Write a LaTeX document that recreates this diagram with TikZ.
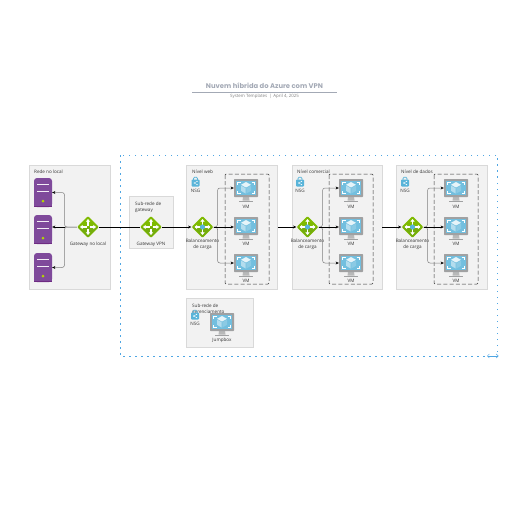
\documentclass[tikz,border=0pt]{standalone}
\usepackage{fontspec}
\setmainfont{Open Sans}
\newfontfamily\titlefont{Poppins}
\usetikzlibrary{arrows.meta,shapes.geometric}

\definecolor{panelfill}{HTML}{F2F2F2}
\definecolor{panelline}{HTML}{D9D9D9}
\definecolor{vnetblue}{HTML}{4FA6E3}
\definecolor{serverpurple}{HTML}{7F4A9B}
\definecolor{serverdark}{HTML}{68217A}
\definecolor{gategreen}{HTML}{7FBA00}
\definecolor{gatedark}{HTML}{5E9624}
\definecolor{bezelgray}{HTML}{A0A1A2}
\definecolor{screenblue}{HTML}{59B4D9}
\definecolor{titlegray}{HTML}{A3A9B5}

\tikzset{
    panel/.style={draw=panelline, fill=panelfill, line width=.9pt, inner sep=0pt},
    label/.style={font=\fontsize{4.6}{6}\selectfont, text=black!80, inner sep=0pt, align=center},
    panellabel/.style={label, anchor=west, align=left},
    link/.style={black!50, line width=.5pt, rounded corners=2.5pt, -{Stealth[black, length=3.2pt, width=3pt]}},
    midlink/.style={black, line width=.6pt, -{Stealth[length=3.2pt, width=3pt]}},
    mainlink/.style={black, line width=.7pt},
    gatearrow/.style={white, line width=1.2pt, -{Triangle[length=2.6pt,width=4pt]}},
    groupline/.style={black!80, line width=.5pt, dash pattern=on 4pt off 2.2pt, rounded corners=1pt},
}

% Icons, all drawn around their centre.
\newcommand{\vmicon}[2]{
    \begin{scope}[shift={(#2)}]
        \fill[bezelgray!75] (-3,9) -- (3,9) -- (3.5,12.5) -- (-3.5,12.5) -- cycle;
        \fill[bezelgray] (-7,12.5) rectangle (7,14);
        \node[draw=none, fill=bezelgray, minimum width=24pt, minimum height=18pt, inner sep=0pt, rounded corners=.6pt] (#1) at (0,0) {};
        \fill[screenblue!85!white] (-10,-7.5) rectangle (10,7);
        \draw[white, line width=.7pt] (-8.5,-3) -- (-8.5,-6) -- (-5.5,-6) (5.5,-6) -- (8.5,-6) -- (8.5,-3) (8.5,2.5) -- (8.5,5.5) -- (5.5,5.5) (-5.5,5.5) -- (-8.5,5.5) -- (-8.5,2.5);
        \fill[white!85!screenblue] (0,-6) -- (5,-3.2) -- (0,-.5) -- (-5,-3.2) -- cycle;
        \fill[white!55!screenblue] (-5,-2.4) -- (-.4,.2) -- (-.4,5.5) -- (-5,2.8) -- cycle;
        \fill[white!30!screenblue] (5,-2.4) -- (.4,.2) -- (.4,5.5) -- (5,2.8) -- cycle;
    \end{scope}
}
\newcommand{\servericon}[2]{
    \begin{scope}[shift={(#2)}]
        \node[fill=serverpurple, minimum width=18pt, minimum height=29pt, inner sep=0pt, rounded corners=3pt] (#1) at (0,0) {};
        \fill[serverpurple] (-9,0) rectangle (9,14.5);
        \fill[serverdark!75!serverpurple] (-9,13.8) rectangle (9,14.5);
        \draw[white!90!serverpurple, line width=1pt] (-6,-8.5) -- (6,-8.5) (-6,-1.5) -- (6,-1.5);
        \fill[gategreen!60!yellow] (0,8.5) circle (1.5);
    \end{scope}
}
\newcommand{\gateicon}[2]{
    \begin{scope}[shift={(#2)}]
        \node[diamond, fill=gategreen, minimum size=22pt, inner sep=0pt, rounded corners=1.2pt] (#1) at (0,0) {};
        \fill[gatedark!35!gategreen] (-10,0) -- (10,0) -- (0,10) -- cycle;
        \draw[gatearrow] (0,-1.5) -- (0,-8);
        \draw[gatearrow] (0,1.5) -- (0,8);
        \draw[gatearrow] (-1.5,0) -- (-8,0);
        \draw[gatearrow] (1.5,0) -- (8,0);
    \end{scope}
}
\newcommand{\lbicon}[2]{
    \begin{scope}[shift={(#2)}]
        \node[diamond, fill=gategreen, minimum size=22pt, inner sep=0pt, rounded corners=1.2pt] (#1) at (0,0) {};
        \fill[gatedark!35!gategreen] (-10,0) -- (10,0) -- (0,10) -- cycle;
        \draw[gatearrow] (0,-1.5) -- (0,-8);
        \draw[gatearrow] (0,1.5) -- (0,8);
        \draw[gatearrow] (-1.5,0) -- (-8,0);
        \draw[gatearrow] (1.5,0) -- (8,0);
        \fill[screenblue] (0,0) circle (2.6);
    \end{scope}
}
\newcommand{\lockicon}[2]{
    \begin{scope}[shift={(#2)}]
        \draw[screenblue, line width=.8pt] (-2,-2) -- (-2,-3.5) -- (-1,-4.7) -- (1,-4.7) -- (2,-3.5) -- (2,-2);
        \node[fill=screenblue, minimum width=8pt, minimum height=7pt, inner sep=0pt, rounded corners=.8pt] (#1) at (0,1) {};
        \fill[white] (1.6,-.6) circle (.6) (1.6,2.6) circle (.6) (-1.4,1) circle (.6);
        \draw[white, line width=.3pt] (1.6,-.6) -- (-1.4,1) -- (1.6,2.6);
    \end{scope}
}

\begin{document}
\begin{tikzpicture}[x=1pt, y=-1pt]
    \useasboundingbox (0,0) rectangle (516,516);
    % Title block.
        \node[font=\titlefont\bfseries\fontsize{6.8}{8}\selectfont, text=titlegray, inner sep=0pt] (titletext) at (264.5,86) {Nuvem híbrida do Azure com VPN};
        \coordinate (ruleleft) at (192,92);
        \coordinate (ruleright) at (337,92);
        \draw[titlegray, line width=.7pt] (ruleleft) -- (ruleright);
        \node[font=\fontsize{4.4}{5}\selectfont, text=black!50, inner sep=0pt] (subtitle) at (264.5,96) {System Templates \,|\, April 4, 2025};
    % The dotted virtual network frame.
        \coordinate (vnetnw) at (120,155);
        \coordinate (vnetse) at (497,356);
        \draw[vnetblue, line width=1pt, dash pattern=on 1.5pt off 4.5pt] (vnetnw) rectangle (vnetse);
        \coordinate (sizeleft) at (487,356);
        \coordinate (sizeright) at (498.5,356);
        \draw[vnetblue, line width=.5pt, {Straight Barb[length=2pt,width=4pt]}-{Straight Barb[length=2pt,width=4pt]}] (sizeleft) -- (sizeright);
    % Panels.
        \node[panel, minimum width=81pt, minimum height=124pt] (localbox) at (70,227) {};
        \node[panel, minimum width=44pt, minimum height=52pt] (gatebox) at (151,222) {};
        \node[panel, minimum width=91pt, minimum height=124pt] (webbox) at (232,227) {};
        \node[panel, minimum width=90pt, minimum height=124pt] (bizbox) at (337,227) {};
        \node[panel, minimum width=91pt, minimum height=124pt] (databox) at (441.5,227) {};
        \node[panel, minimum width=67pt, minimum height=49pt] (mgmtbox) at (220,322.5) {};
    % Dashed groups round the VMs.
        \draw[groupline] (225,174) rectangle (269,284);
        \draw[groupline] (329,174) rectangle (373,284);
        \draw[groupline] (434,174) rectangle (478,284);
    % Below nodes are the icons.
        \servericon{servera}{43,192.5}
        \servericon{serverb}{43,229.5}
        \servericon{serverc}{43,267.5}
        \gateicon{gatelocal}{88,227}
        \gateicon{gatevpn}{151,227}
        \lbicon{lbweb}{202.5,227}
        \lbicon{lbbiz}{307.5,227}
        \lbicon{lbdata}{412.5,227}
        \vmicon{webvma}{246,188}
        \vmicon{webvmb}{246,226}
        \vmicon{webvmc}{246,263}
        \vmicon{bizvma}{351,188}
        \vmicon{bizvmb}{351,226}
        \vmicon{bizvmc}{351,263}
        \vmicon{datavma}{456,188}
        \vmicon{datavmb}{456,226}
        \vmicon{datavmc}{456,263}
        \lockicon{nsgweb}{195.5,182}
        \lockicon{nsgbiz}{300,182}
        \lockicon{nsgdata}{405,182}
    % Below nodes are the labels.
        \node[panellabel] (localname) at (34,172) {Rede no local};
        \node[panellabel] (gatename) at (135,207) {Sub-rede de\\gateway};
        \node[panellabel] (webname) at (192,172) {Nível web};
        \node[panellabel] (bizname) at (297,172) {Nível comercial};
        \node[panellabel] (dataname) at (401,172) {Nível de dados};
        \node[panellabel] (mgmtname) at (192,309) {Sub-rede de\\gerenciamento};
        \node[label] (gatelocalname) at (88,244) {Gateway no local};
        \node[label] (gatevpnname) at (151,244) {Gateway VPN};
        \node[label] (lbwebname) at (202.5,244.5) {Balanceamento\\de carga};
        \node[label] (lbbizname) at (307.5,244.5) {Balanceamento\\de carga};
        \node[label] (lbdataname) at (412.5,244.5) {Balanceamento\\de carga};
        \node[label] (nsgwebname) at (195.5,191) {NSG};
        \node[label] (nsgbizname) at (300,191) {NSG};
        \node[label] (nsgdataname) at (405,191) {NSG};
        \node[label] (webvmaname) at (246,207) {VM};
        \node[label] (webvmbname) at (246,243.5) {VM};
        \node[label] (webvmcname) at (246,281) {VM};
        \node[label] (bizvmaname) at (351,207) {VM};
        \node[label] (bizvmbname) at (351,243.5) {VM};
        \node[label] (bizvmcname) at (351,281) {VM};
        \node[label] (datavmaname) at (456,207) {VM};
        \node[label] (datavmbname) at (456,243.5) {VM};
        \node[label] (datavmcname) at (456,281) {VM};
    % The jumpbox sits on top of its panel's label.
        \lockicon{nsgmgmt}{195,315}
        \vmicon{jumpbox}{222,322}
        \node[label] (nsgmgmtname) at (195,324) {NSG};
        \node[label] (jumpboxname) at (222,340) {Jumpbox};
    % Connectors.
        \draw[mainlink] (gatelocal.east) -- (gatevpn.west);
        \draw[mainlink, -{Stealth[length=3.2pt,width=3pt]}] (gatevpn.east) -- (lbweb.west);
        \draw[mainlink, -{Stealth[length=3.2pt,width=3pt]}] (webbox.east) -- (lbbiz.west);
        \draw[mainlink, -{Stealth[length=3.2pt,width=3pt]}] (bizbox.east) -- (lbdata.west);
        % On-premises gateway to the servers.
            \coordinate (localbus) at (64.5,227);
            \draw[link] (gatelocal.west) -- (localbus) |- (servera.east);
            \draw[link] (gatelocal.west) -- (localbus) |- (serverc.east);
            \draw[midlink] (localbus) -- (serverb.east |- localbus);
        % Load balancers to the VMs.
            \coordinate (webbus) at (217.5,227);
            \draw[link] (lbweb.east) -- (webbus) |- (webvma.west);
            \draw[link] (lbweb.east) -- (webbus) |- (webvmc.west);
            \draw[midlink] (lbweb.east) -- (webvmb.west |- lbweb.east);
            \coordinate (bizbus) at (322.5,227);
            \draw[link] (lbbiz.east) -- (bizbus) |- (bizvma.west);
            \draw[link] (lbbiz.east) -- (bizbus) |- (bizvmc.west);
            \draw[midlink] (lbbiz.east) -- (bizvmb.west |- lbbiz.east);
            \coordinate (databus) at (427.5,227);
            \draw[link] (lbdata.east) -- (databus) |- (datavma.west);
            \draw[link] (lbdata.east) -- (databus) |- (datavmc.west);
            \draw[midlink] (lbdata.east) -- (datavmb.west |- lbdata.east);
\end{tikzpicture}
\end{document}
